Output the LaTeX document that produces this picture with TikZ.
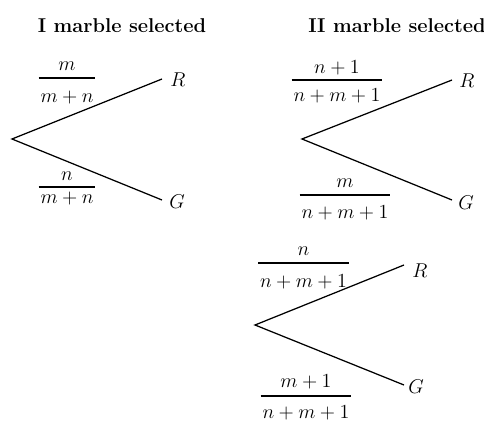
\documentclass[tikz,border=0pt]{standalone}
\newcommand\myfrac[7]{%
  \node[fr] (#1n) at (#2,#3) {$#6$};
  \node[fr] (#1d) at (#2,#5) {$#7$};
  \draw[fracbar] ([xshift=-1pt]#1d.west |- 0,#4) -- ([xshift=1pt]#1d.east |- 0,#4);
}
\begin{document}
\begin{tikzpicture}[x=0.6pt,y=-0.6pt,
  branch/.style={line width=0.75pt},
  fracbar/.style={line width=0.7pt},
  lbl/.style={anchor=base west,inner sep=0pt,font=\fontsize{12.5}{14}\selectfont},
  fr/.style={anchor=base,inner sep=0pt,font=\fontsize{12.5}{14}\selectfont},
  ttl/.style={anchor=base,inner sep=0pt,font=\fontsize{12}{14}\selectfont\bfseries}]
\useasboundingbox (0,0) rectangle (484,421);
% titles
\node[ttl] (t1) at (122,32) {I marble selected};
\node[ttl] (t2) at (397,32) {II marble selected};
% tree 1
\coordinate (r1) at (12,139);
\coordinate (e1R) at (162,79);
\coordinate (e1G) at (162,200);
\node[lbl] (R1) at (170,86) {$R$};
\node[lbl] (G1) at (169,208) {$G$};
\draw[branch] (e1R) -- (r1) -- (e1G);
\myfrac{f1}{67}{70}{78}{102}{m}{m+n}
\myfrac{f2}{67}{180}{187}{203}{n}{m+n}
% tree 2
\coordinate (r2) at (302,139);
\coordinate (e2R) at (452,80);
\coordinate (e2G) at (452,200);
\node[lbl] (R2) at (459,87) {$R$};
\node[lbl] (G2) at (458,209) {$G$};
\draw[branch] (e2R) -- (r2) -- (e2G);
\myfrac{f3}{337}{73}{80}{101}{n+1}{n+m+1}
\myfrac{f4}{345}{187}{195}{218}{m}{n+m+1}
% tree 3
\coordinate (r3) at (255,325);
\coordinate (e3R) at (404,265);
\coordinate (e3G) at (404,385);
\node[lbl] (R3) at (412,277) {$R$};
\node[lbl] (G3) at (408,393) {$G$};
\draw[branch] (e3R) -- (r3) -- (e3G);
\myfrac{f5}{303.5}{255}{263}{287}{n}{n+m+1}
\myfrac{f6}{306}{387}{396}{418}{m+1}{n+m+1}
\end{tikzpicture}
\end{document}
